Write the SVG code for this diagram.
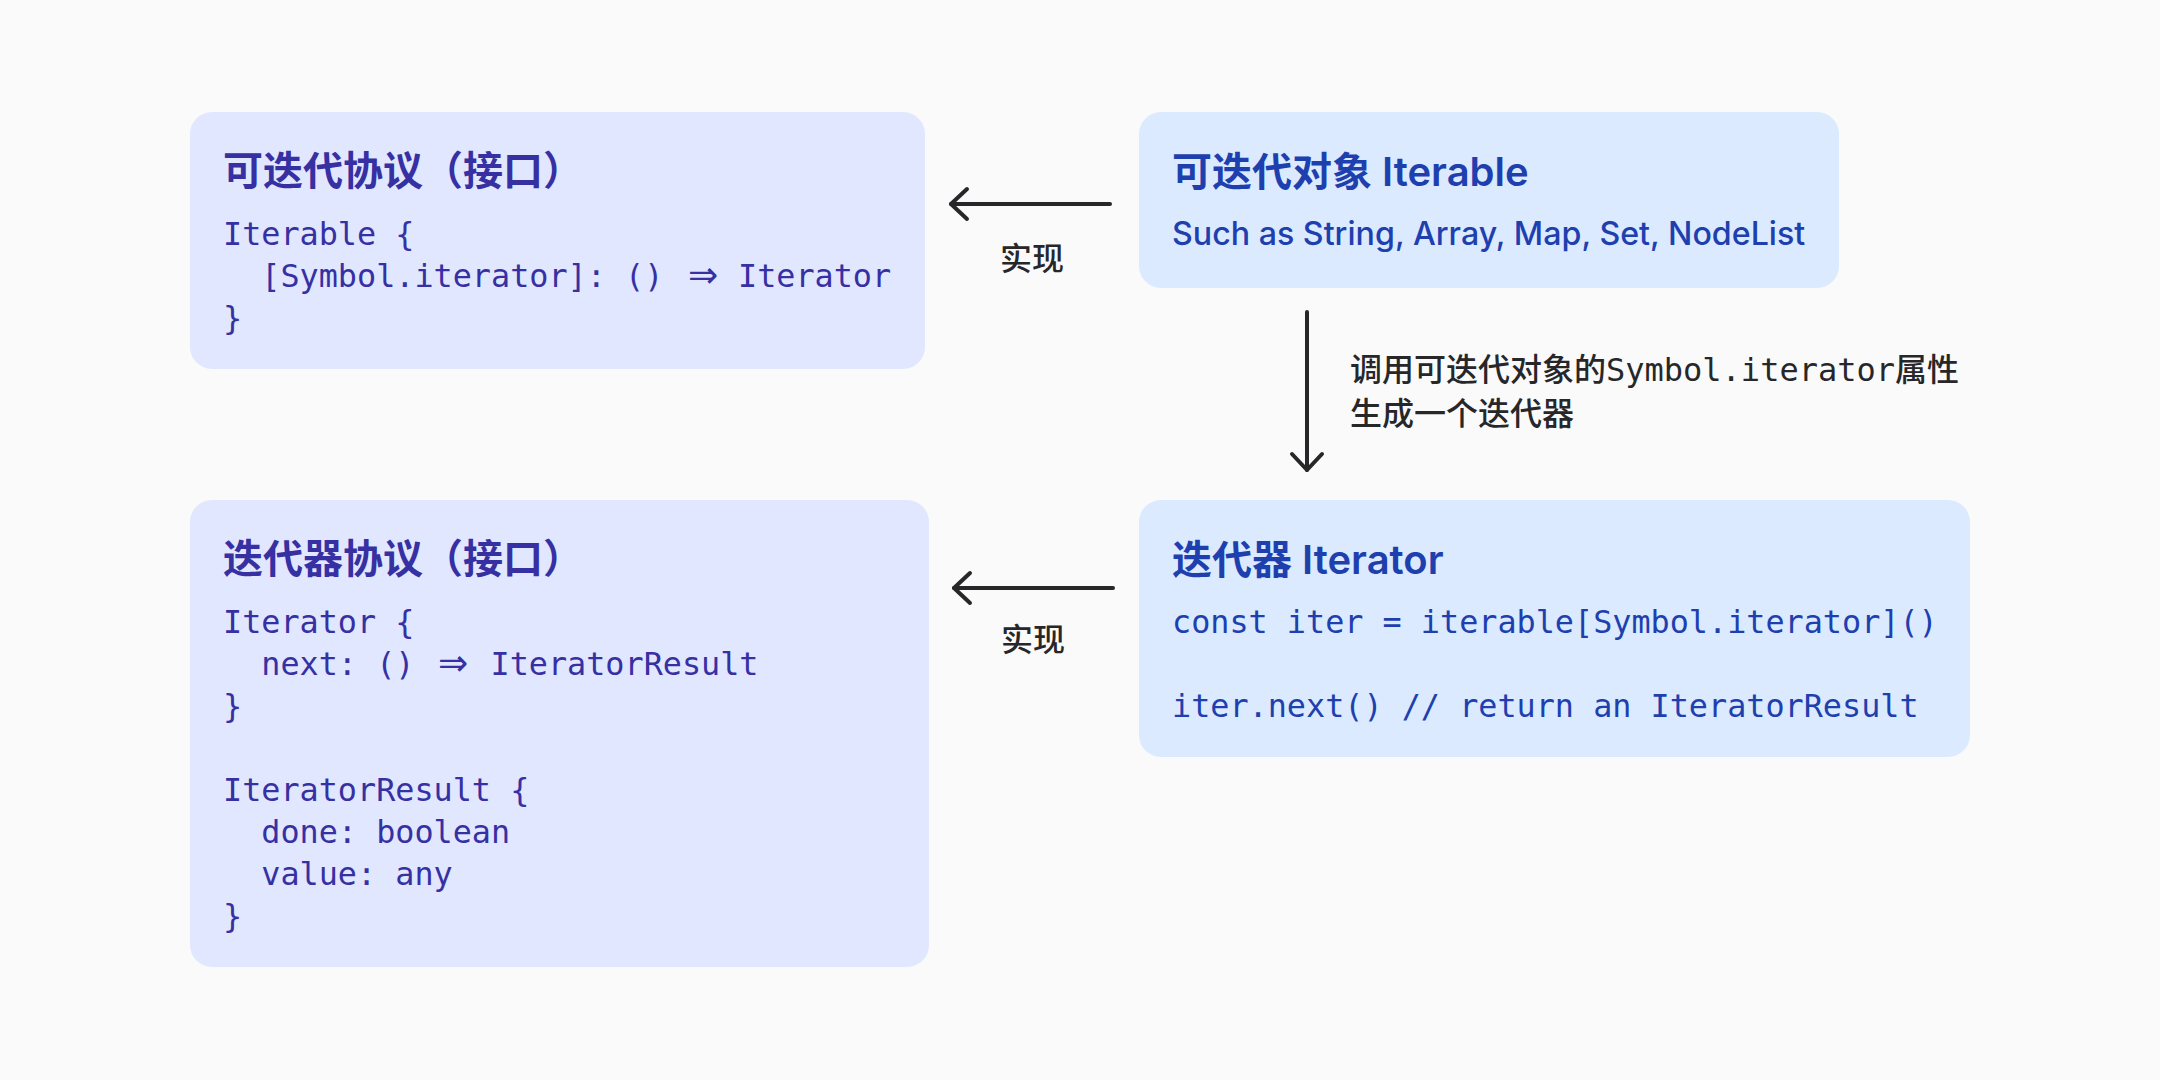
<svg xmlns="http://www.w3.org/2000/svg" width="2160" height="1080" viewBox="0 0 2160 1080">
<defs>
<style>
.bg{fill:#FAFAFA}
.proto{fill:#E0E7FF}
.obj{fill:#DBEAFE}
.title{font-family:"Inter","Noto Sans CJK SC",sans-serif;font-size:40px;font-weight:600}
.sub{font-family:"Inter","Noto Sans CJK SC",sans-serif;font-size:32.2px;font-weight:500}
.code{font-family:"DejaVu Sans Mono","Noto Sans CJK SC",monospace;font-size:31.8px}
.arr{font-family:"DejaVu Sans",sans-serif;font-size:36px}
.ind{fill:#3730A3}
.blu{fill:#1E40AF}
.lbl{font-family:"DejaVu Sans Mono","Noto Sans CJK SC",monospace;font-size:32px;font-weight:500;fill:#27272A}
.conn{fill:none;stroke:#27272A;stroke-width:4;stroke-linecap:round}
</style>
<marker id="ah" viewBox="-20 -20 24 40" refX="0" refY="0" markerWidth="24" markerHeight="40" markerUnits="userSpaceOnUse" orient="auto">
<path d="M -16 -15 L 0 0 L -16 15" fill="none" stroke="#27272A" stroke-width="4" stroke-linecap="round" stroke-linejoin="round"/>
</marker>
</defs>
<rect class="bg" x="0" y="0" width="2160" height="1080"/>

<g id="iterable-protocol">
<rect class="proto" x="190" y="112" width="735" height="257" rx="22"/>
<text class="title ind" x="223" y="185">可迭代协议（接口）</text>
<text class="code ind" x="223" y="245">Iterable {</text>
<text class="code ind" y="287"><tspan x="261.3">[Symbol.iterator]: ()</tspan><tspan class="arr" x="688">⇒</tspan><tspan x="738">Iterator</tspan></text>
<text class="code ind" x="223" y="329">}</text>
</g>

<g id="iterable">
<rect class="obj" x="1139" y="112" width="700" height="176" rx="22"/>
<text class="title blu" x="1172" y="186">可迭代对象 Iterable</text>
<text class="sub blu" x="1172" y="245">Such as String, Array, Map, Set, NodeList</text>
</g>

<g id="iterator-protocol">
<rect class="proto" x="190" y="500" width="739" height="467" rx="22"/>
<text class="title ind" x="223" y="573">迭代器协议（接口）</text>
<text class="code ind" x="223" y="633">Iterator {</text>
<text class="code ind" y="675"><tspan x="261.3">next: ()</tspan><tspan class="arr" x="438">⇒</tspan><tspan x="490.5">IteratorResult</tspan></text>
<text class="code ind" x="223" y="717">}</text>
<text class="code ind" x="223" y="801">IteratorResult {</text>
<text class="code ind" x="261.3" y="843">done: boolean</text>
<text class="code ind" x="261.3" y="885">value: any</text>
<text class="code ind" x="223" y="927">}</text>
</g>

<g id="iterator">
<rect class="obj" x="1139" y="500" width="831" height="257" rx="22"/>
<text class="title blu" x="1172" y="574">迭代器 Iterator</text>
<text class="code blu" x="1172" y="633">const iter = iterable[Symbol.iterator]()</text>
<text class="code blu" x="1172" y="717">iter.next() // return an IteratorResult</text>
</g>

<g id="connectors">
<path class="conn" d="M 1110 204 L 951 204" marker-end="url(#ah)"/>
<text class="lbl" x="1032" y="270" text-anchor="middle">实现</text>
<path class="conn" d="M 1113 588 L 954 588" marker-end="url(#ah)"/>
<text class="lbl" x="1033" y="651" text-anchor="middle">实现</text>
<path class="conn" d="M 1307 312 L 1307 470" marker-end="url(#ah)"/>
<text class="lbl" x="1350" y="381">调用可迭代对象的Symbol.iterator属性</text>
<text class="lbl" x="1350" y="425">生成一个迭代器</text>
</g>
</svg>
